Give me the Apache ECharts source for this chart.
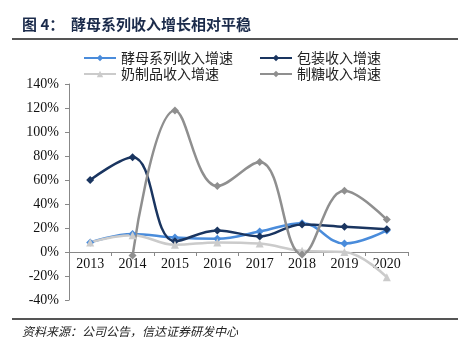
<html>
<head>
    <meta charset="UTF-8">
    <title>酵母系列收入增长相对平稳</title>
    <script src="https://cdn.jsdelivr.net/npm/echarts@6/dist/echarts.min.js"></script>
    <style>
        body {
            padding: 0;
            margin: 0;
            overflow: hidden;
            background: #fff;
        }
        #chart {
            width: 458px;
            height: 354px;
        }
    </style>
</head>
<body>
<div id="chart"></div>
<script>
    const years = ['2013', '2014', '2015', '2016', '2017', '2018', '2019', '2020'];
    const yeastGrowth = [8, 15, 12, 11, 17, 24, 7, 18];
    const packGrowth = [60, 79, 9, 18, 13, 23, 21, 19];
    const dairyGrowth = [8, 14, 6, 8, 7, 1, 0, -21];
    const sugarGrowth = [null, -3, 118, 55, 75, -2, 51, 27];

    const cnFont = '"Noto Sans CJK SC", sans-serif';
    const numFont = '"Liberation Serif", "DejaVu Serif", serif';

    function mkLine(name, data, color, symbol) {
        return {
            name: name,
            type: 'line',
            data: data,
            smooth: 0.4,
            symbol: symbol,
            symbolSize: 8,
            showSymbol: true,
            connectNulls: false,
            lineStyle: {color: color, width: 2.5},
            itemStyle: {color: color},
            z: 3
        };
    }

    const ec = echarts.init(document.getElementById('chart'));
    const option = {
        animation: false,
        backgroundColor: '#fff',
        graphic: [
            {
                type: 'text', left: 22, top: 17,
                style: {text: '图 4：  酵母系列收入增长相对平稳', font: 'bold 15px ' + cnFont, fill: '#1b2b4b'}
            },
            {
                type: 'rect', shape: {x: 12, y: 38, width: 446, height: 2},
                style: {fill: '#555'}
            },
            {
                type: 'rect', shape: {x: 12, y: 318, width: 446, height: 2},
                style: {fill: '#555'}
            },
            {
                type: 'text', left: 22, top: 325,
                style: {text: '资料来源：公司公告，信达证券研发中心', font: 'italic 12px ' + cnFont, fill: '#222'}
            }
        ],
        legend: [
            {
                data: ['酵母系列收入增速', '包装收入增速'],
                left: 78, top: 46, itemWidth: 32, itemHeight: 8, itemGap: 26,
                textStyle: {fontFamily: cnFont, fontSize: 14, color: '#222'}
            },
            {
                data: ['奶制品收入增速', '制糖收入增速'],
                left: 78, top: 62, itemWidth: 32, itemHeight: 8, itemGap: 40,
                textStyle: {fontFamily: cnFont, fontSize: 14, color: '#222'}
            }
        ],
        grid: {left: 69, right: 50, top: 84, bottom: 54},
        xAxis: {
            type: 'category',
            data: years,
            boundaryGap: true,
            position: 'bottom',
            offset: -48,
            axisLine: {onZero: false, lineStyle: {color: '#888', width: 1}},
            axisTick: {show: true, length: 4, lineStyle: {color: '#888'}},
            axisLabel: {fontFamily: numFont, fontSize: 14, color: '#111', margin: 5}
        },
        yAxis: {
            type: 'value',
            min: -40,
            max: 140,
            interval: 20,
            splitLine: {show: false},
            axisLine: {show: true, lineStyle: {color: '#888', width: 1}},
            axisTick: {show: true, length: 4, lineStyle: {color: '#888'}},
            axisLabel: {formatter: '{value}%', fontFamily: numFont, fontSize: 14, color: '#111', margin: 10}
        },
        series: [
            mkLine('酵母系列收入增速', yeastGrowth, '#4a8cdb', 'diamond'),
            mkLine('包装收入增速', packGrowth, '#1a3560', 'diamond'),
            mkLine('奶制品收入增速', dairyGrowth, '#cbcbcb', 'triangle'),
            mkLine('制糖收入增速', sugarGrowth, '#8f8f8f', 'diamond')
        ]
    };
    ec.setOption(option);
</script>
</body>
</html>
